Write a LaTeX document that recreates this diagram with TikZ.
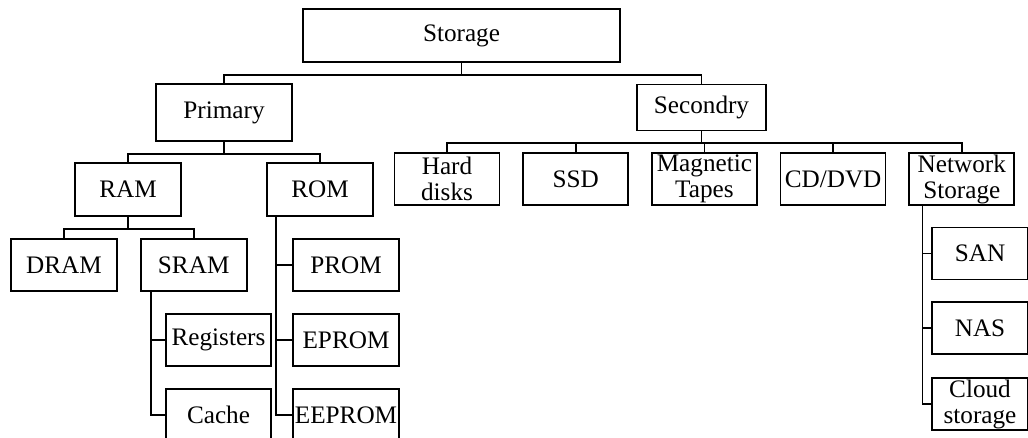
\documentclass[tikz,border=0pt]{standalone}
\usepackage{fontspec}
\setmainfont{Liberation Serif}
\usetikzlibrary{positioning}
\tikzstyle{box}=[draw, rectangle, line width=0.85pt, inner sep=0pt, align=center,
  minimum width=53pt, minimum height=26pt, font=\fontsize{12.6}{13}\selectfont]
\tikzstyle{link}=[line width=0.9pt]

\begin{document}
\begin{tikzpicture}[x=0.5pt,y=-0.5pt,node distance=11pt]
    \clip (0,0) rectangle (1028,438);

          \node[box, minimum width=158.5pt, minimum height=26.5pt] (storage) at (461.5,35.5) {Storage};
          \node[box, minimum width=68pt, minimum height=28.5pt] (primary) at (224,112.5) {Primary};
          \node[box, minimum width=64.5pt, minimum height=23pt] (secondry) at (701.5,107.5) {Secondry};

          % primary side
          \node[box, minimum height=26.5pt] (ram) at (128,189.5) {RAM};
          \node[box, minimum height=26.5pt] (rom) at (320,189.5) {ROM};
          \node[box] (dram) at (64,265) {DRAM};
          \node[box] (sram) [right=of dram] {SRAM};
          \node[box, minimum width=52.5pt] (reg) at (218.5,340) {Registers};
          \node[box, minimum width=52.5pt] (cache) at (218.5,415) {Cache};
          \node[box] (prom) at (346,265) {PROM};
          \node[box] (eprom) at (346,340) {EPROM};
          \node[box] (eeprom) at (346,415) {EEPROM};

          % secondary side
          \node[box, minimum width=52.5pt] (hd) at (447,179) {Hard\\disks};
          \node[box, minimum width=52.5pt] (ssd) [right=of hd] {SSD};
          \node[box, minimum width=52.5pt] (mt) [right=of ssd] {Magnetic\\Tapes};
          \node[box, minimum width=52.5pt] (cd) [right=of mt] {CD/DVD};
          \node[box, minimum width=52.5pt] (ns) [right=of cd] {Network\\Storage};
          \node[box, minimum width=48pt] (san) at (980,253.5) {SAN};
          \node[box, minimum width=48pt] (nas) at (980,328) {NAS};
          \node[box, minimum width=48pt] (cloud) at (980,404) {Cloud\\storage};

          % tree links
          \draw[link] (storage.south) -- ++(0,-6pt) coordinate (b0);
          \draw[link] (b0) -| (primary.north);
          \draw[link] (b0) -| (secondry.north);

          \draw[link] (primary.south) -- ++(0,-6pt) coordinate (b1);
          \draw[link] (b1) -| (ram.north);
          \draw[link] (b1) -| (rom.north);

          \draw[link] (ram.south) -- ++(0,-6pt) coordinate (b2);
          \draw[link] (b2) -| (dram.north);
          \draw[link] (b2) -| (sram.north);

          \draw[link] (secondry.south) -- ++(0,-6pt) coordinate (b3);
          \foreach \n in {hd,ssd,mt,cd,ns}
            \draw[link] (b3) -| (\n.north);

          % side links
          \draw[link] (sram.south west) ++(5.5pt,0) coordinate (s1);
          \draw[link] (s1) |- (reg.west);
          \draw[link] (s1) |- (cache.west);

          \draw[link] (rom.south west) ++(5pt,0) coordinate (s2);
          \foreach \n in {prom,eprom,eeprom}
            \draw[link] (s2) |- (\n.west);

          \draw[link] (ns.south west) ++(7pt,0) coordinate (s3);
          \foreach \n in {san,nas,cloud}
            \draw[link] (s3) |- (\n.west);
\end{tikzpicture}
\end{document}
